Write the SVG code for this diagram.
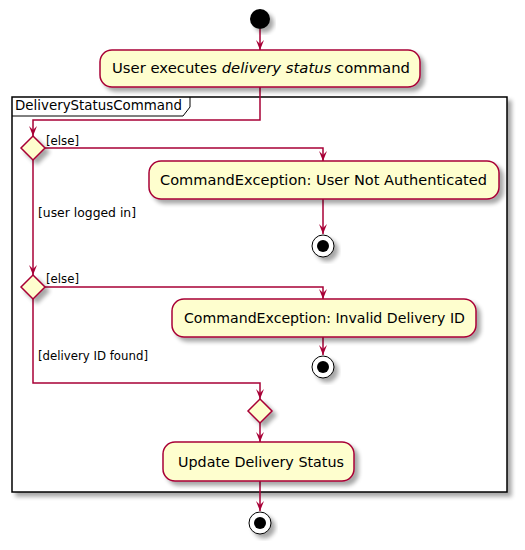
<svg xmlns="http://www.w3.org/2000/svg" width="525" height="550" viewBox="0 0 525 550">
<defs>
<filter id="sh" x="-20%" y="-20%" width="150%" height="150%">
<feGaussianBlur in="SourceAlpha" stdDeviation="2"/>
<feOffset dx="4" dy="4" result="b"/>
<feComponentTransfer><feFuncA type="linear" slope="0.35"/></feComponentTransfer>
<feMerge><feMergeNode/><feMergeNode in="SourceGraphic"/></feMerge>
</filter>
<marker id="ah" markerWidth="10" markerHeight="10" refX="10" refY="5" orient="auto" markerUnits="userSpaceOnUse">
<path d="M0,1 L10,5 L0,9 L4,5 Z" fill="#A80036"/>
</marker>
<style>
.act{fill:#FEFECE;stroke:#A80036;stroke-width:1.5;filter:url(#sh)}
.dia{fill:#FEFECE;stroke:#A80036;stroke-width:1.5;filter:url(#sh)}
.t{font-family:"DejaVu Sans",sans-serif;font-size:14px;fill:#000}
.lbl{font-family:"DejaVu Sans",sans-serif;font-size:12px;fill:#000}
.c{fill:none;stroke:#A80036;stroke-width:1.5;marker-end:url(#ah)}
.end{fill:#fff;stroke:#000;stroke-width:1;filter:url(#sh)}
</style>
</defs>
<rect width="525" height="550" fill="#fff"/>
<g id="frame">
<rect x="12" y="97" width="495" height="395" fill="#fff" stroke="#000" stroke-width="1.5" filter="url(#sh)"/>
<path d="M12,116 L183,116 L190,107 L190,97" fill="none" stroke="#000" stroke-width="1"/>
<text class="t" x="15" y="110" style="font-size:13.5px" textLength="167" lengthAdjust="spacingAndGlyphs">DeliveryStatusCommand</text>
</g>
<g id="connectors">
<path class="c" d="M260,29 L260,50"/>
<path class="c" d="M260,87 L260,120 L33,120 L33,136"/>
<path class="c" d="M45,148 L323,148 L323,161"/>
<path class="c" d="M323,199 L323,234"/>
<path class="c" d="M33,160 L33,275"/>
<path class="c" d="M45,287 L323,287 L323,299"/>
<path class="c" d="M323,337 L323,355"/>
<path class="c" d="M33,299 L33,383 L260,383 L260,399"/>
<path class="c" d="M260,423 L260,442"/>
<path class="c" d="M260,481 L260,511"/>
<text class="lbl" x="46" y="145" textLength="33" lengthAdjust="spacingAndGlyphs">[else]</text>
<text class="lbl" x="38" y="217" textLength="98" lengthAdjust="spacingAndGlyphs">[user logged in]</text>
<text class="lbl" x="46" y="283" textLength="33" lengthAdjust="spacingAndGlyphs">[else]</text>
<text class="lbl" x="38" y="360" textLength="110" lengthAdjust="spacingAndGlyphs">[delivery ID found]</text>
</g>
<g id="start">
<circle cx="260" cy="19" r="10" fill="#000" filter="url(#sh)"/>
</g>
<g id="act1">
<rect class="act" x="100" y="50" width="320" height="37" rx="12"/>
<text class="t" x="112" y="73" textLength="298" lengthAdjust="spacingAndGlyphs">User executes <tspan font-style="italic">delivery status</tspan> command</text>
</g>
<g id="dec1">
<polygon class="dia" points="33,136 45,148 33,160 21,148"/>
</g>
<g id="act2">
<rect class="act" x="149" y="161" width="350" height="38" rx="12"/>
<text class="t" x="160" y="185" textLength="327" lengthAdjust="spacingAndGlyphs">CommandException: User Not Authenticated</text>
</g>
<g id="end1">
<circle class="end" cx="323" cy="246" r="11"/>
<circle cx="323" cy="246" r="6" fill="#000"/>
</g>
<g id="dec2">
<polygon class="dia" points="33,275 45,287 33,299 21,287"/>
</g>
<g id="act3">
<rect class="act" x="172" y="299" width="304" height="38" rx="12"/>
<text class="t" x="184" y="323" textLength="281" lengthAdjust="spacingAndGlyphs">CommandException: Invalid Delivery ID</text>
</g>
<g id="end2">
<circle class="end" cx="323" cy="367" r="11"/>
<circle cx="323" cy="367" r="6" fill="#000"/>
</g>
<g id="merge">
<polygon class="dia" points="260,399 272,411 260,423 248,411"/>
</g>
<g id="act4">
<rect class="act" x="163" y="442" width="191" height="39" rx="12"/>
<text class="t" x="178" y="467" textLength="166" lengthAdjust="spacingAndGlyphs">Update Delivery Status</text>
</g>
<g id="end3">
<circle class="end" cx="260" cy="523" r="11"/>
<circle cx="260" cy="523" r="6" fill="#000"/>
</g>
</svg>
